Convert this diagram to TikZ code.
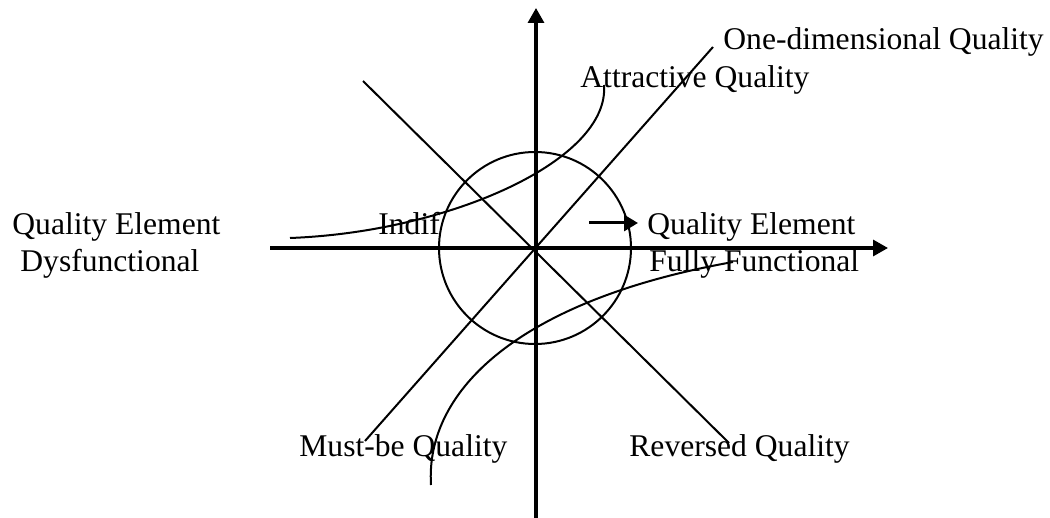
\documentclass[tikz,border=0pt]{standalone}
\usepackage{fontspec}
\setmainfont{Liberation Serif}
\usetikzlibrary{arrows.meta}

\begin{document}
\begin{tikzpicture}[
    x=0.5pt, y=-0.5pt,
    lbl/.style={anchor=base west, inner sep=0pt, font=\fontsize{15.8}{18}\selectfont},
    axis/.style={line width=1.6pt, -{Triangle[length=7.5pt,width=8pt]}},
    fine/.style={line width=1pt}
]
    \useasboundingbox (0,0) rectangle (1050,518);

    % labels
    \node[lbl] (onedim) at (723,50) {One-dimensional Quality};
    \node[lbl] (attr) at (580,88) {Attractive Quality};
    \node[lbl] (fullq) at (647,235) {Quality Element};
    \node[lbl] (fullf) at (649,272) {Fully Functional};
    \node[lbl] (dysq) at (12,235) {Quality Element};
    \node[lbl] (dysf) at (20,272) {Dysfunctional};
    \node[lbl] (indif) at (378,235) {Indif};
    \node[lbl] (mustbe) at (299,456) {Must-be Quality};
    \node[lbl] (rev) at (629,456) {Reversed Quality};

    % axes
    \coordinate (origin) at (535,248);
    \coordinate (west) at (270,248);
    \coordinate (east) at (888,248);
    \coordinate (south) at (536,518);
    \coordinate (north) at (536,8);
    \draw[axis] (west) -- (east);
    \draw[axis] (south) -- (north);

    % circle and diagonals
    \draw[fine] (origin) circle[radius=48pt];
    \coordinate (sw) at (365,441);
    \coordinate (ne) at (713,47);
    \coordinate (nw) at (363,81);
    \coordinate (se) at (729,443);
    \draw[fine] (sw) -- (ne);
    \draw[fine] (nw) -- (se);

    % attractive and must-be curves
    \coordinate (attrstart) at (290,238);
    \coordinate (attrend) at (604,85);
    \coordinate (muststart) at (431,485);
    \coordinate (mustend) at (733,262);
    \draw[fine] (attrstart) .. controls (450,232) and (610,160) .. (attrend);
    \draw[fine] (muststart) .. controls (425,390) and (520,300) .. (mustend);

    % pointer to fully functional
    \coordinate (ptr) at (589,223);
    \coordinate (ptrend) at (638,223);
    \draw[line width=1.5pt, -{Triangle[length=7pt,width=8pt]}] (ptr) -- (ptrend);
\end{tikzpicture}
\end{document}
